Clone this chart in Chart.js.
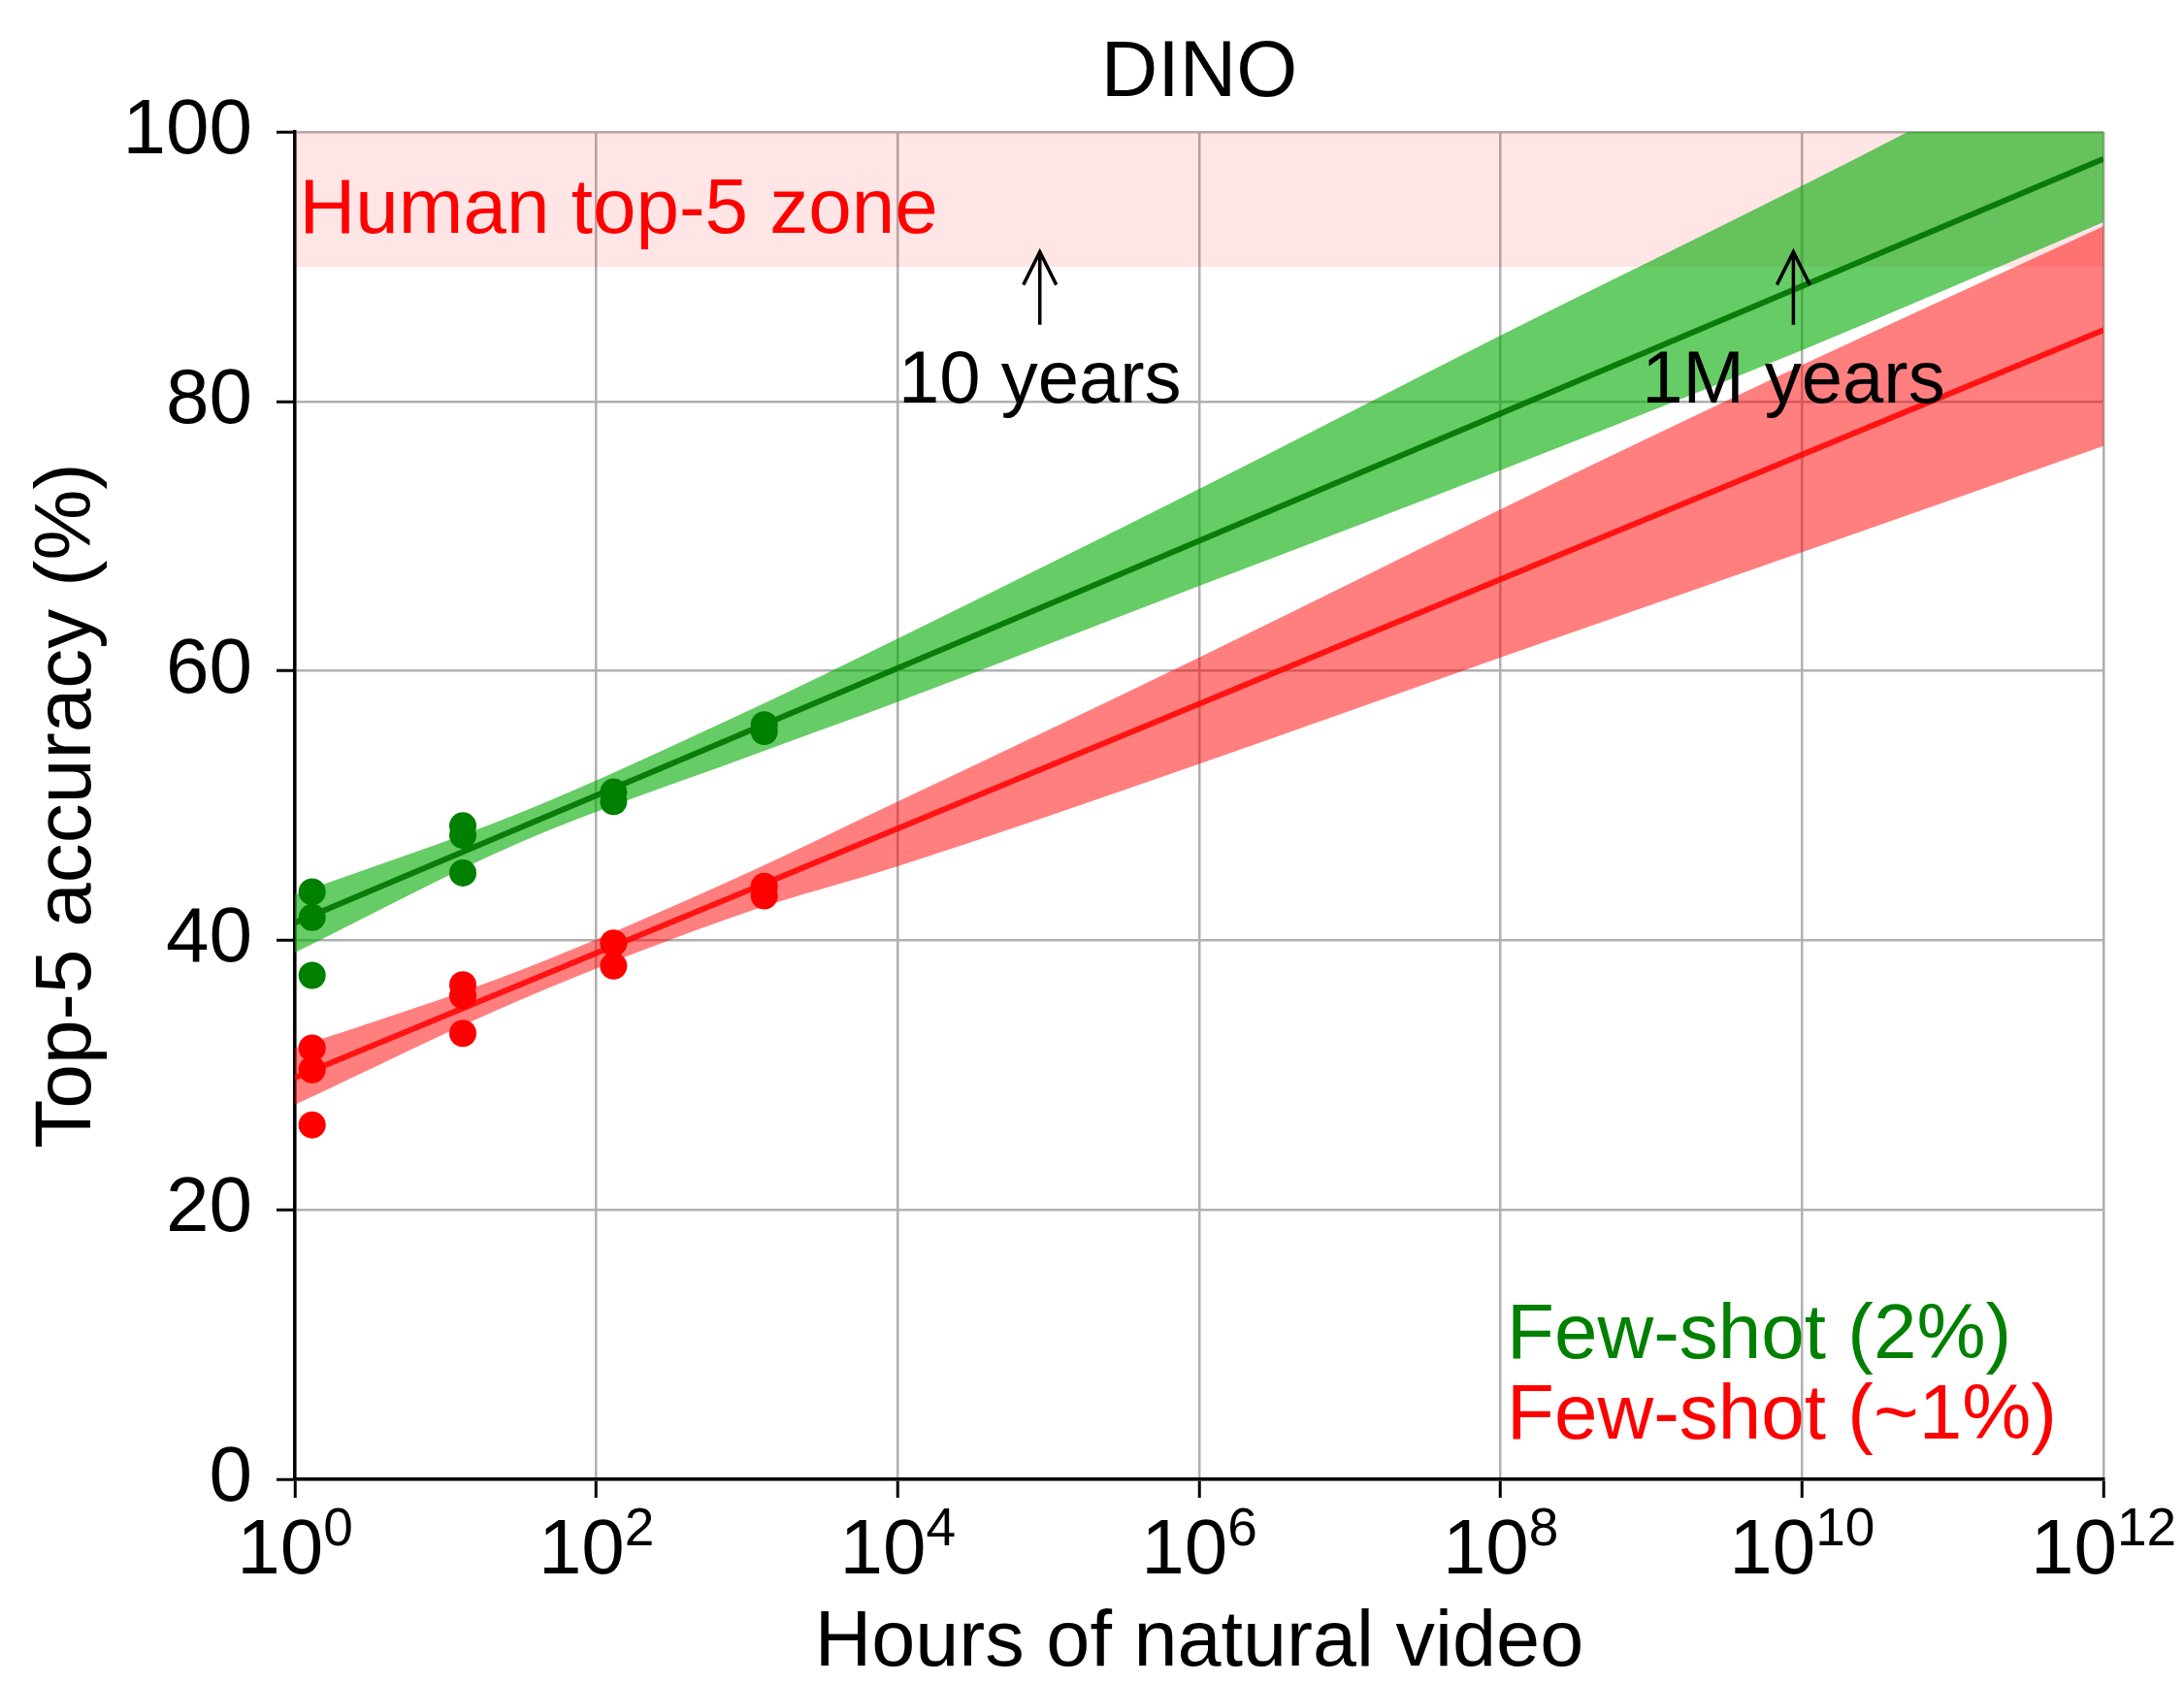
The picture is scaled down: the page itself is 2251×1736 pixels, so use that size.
<!DOCTYPE html>
<html>
<head>
<meta charset="utf-8">
<script src="https://cdn.jsdelivr.net/npm/chart.js@4"></script>
<style>
  html, body { margin: 0; padding: 0; background: #fff; }
</style>
</head>
<body>
<canvas id="scalingChart" width="2251" height="1736"></canvas>
<script>
// measured runs: hours of natural video vs top-5 accuracy (%)
const fewShot2Hours = [1.3, 1.3, 1.3, 13, 13, 13, 130, 130, 1300, 1300]
const fewShot2Acc = [43.6, 41.7, 37.4, 48.5, 47.8, 45.0, 51.0, 50.3, 56.0, 55.5]
const fewShot1Hours = [1.3, 1.3, 1.3, 13, 13, 13, 130, 130, 1300, 1300]
const fewShot1Acc = [32.0, 30.4, 26.3, 36.7, 35.9, 33.1, 39.8, 38.1, 44.0, 43.3]

// log-linear fits, read at both ends of the x axis
const fitHours = [1, 1e12]
const fit2Acc = [41.3, 98.0]
const fit1Acc = [29.8, 85.3]

// confidence bands around the fits
const bandHours = [1, 31.6, 1e3, 1e4, 1e6, 1e8, 1e10, 1e12]
const band2Upper = [43.4, 49.5, 57.0, 62.4, 73.5, 84.9, 96.0, 107.5]
const band2Lower = [39.1, 47.3, 53.6, 57.7, 66.3, 74.9, 83.8, 93.3]
const band1Upper = [32.0, 37.8, 45.0, 50.3, 61.0, 72.0, 82.7, 93.0]
const band1Lower = [27.8, 35.6, 42.1, 45.5, 53.1, 61.0, 68.8, 76.7]

// human top-5 zone (min, max)
const humanZone = [90, 100]

// annotations: hours for 10 years and 1M years of video
const markerHours = [87600, 8.76e9]
const markerLabels = ['10 years', '1M years']

const xTickExponents = [0, 2, 4, 6, 8, 10, 12]
const yTickStep = 20

const FONT = '"Liberation Sans", Arial, Helvetica, sans-serif'
Chart.defaults.font.family = FONT
Chart.defaults.color = '#000'

const points = (xs, ys) => xs.map((x, i) => ({ x, y: ys[i] }))
const flat = (xs, v) => xs.map(x => ({ x, y: v }))

const overlay = {
  id: 'overlay',
  afterDraw(chart) {
    const { ctx, scales: { x, y } } = chart
    ctx.save()
    ctx.fillStyle = '#000'
    ctx.textBaseline = 'alphabetic'
    ctx.textAlign = 'left'

    // x tick labels: 10 with a raised exponent
    xTickExponents.forEach(e => {
      const px = x.getPixelForValue(10 ** e)
      ctx.font = '80px ' + FONT
      const base = ctx.measureText('10').width
      ctx.font = '55px ' + FONT
      const sup = ctx.measureText(String(e)).width
      const left = px - (base + sup) / 2
      ctx.font = '80px ' + FONT
      ctx.fillText('10', left, y.bottom + 97)
      ctx.font = '55px ' + FONT
      ctx.fillText(String(e), left + base, y.bottom + 68)
    })

    // zone label
    ctx.font = '80px ' + FONT
    ctx.fillStyle = '#ff0000'
    ctx.fillText('Human top-5 zone', x.getPixelForValue(1.07), y.getPixelForValue(92.5))

    // arrows with labels
    ctx.fillStyle = '#000'
    ctx.strokeStyle = '#000'
    ctx.lineWidth = 3.5
    ctx.textAlign = 'center'
    ctx.font = '76px ' + FONT
    markerHours.forEach((h, i) => {
      const px = x.getPixelForValue(h)
      const tip = y.getPixelForValue(91.1)
      const tail = y.getPixelForValue(85.7)
      ctx.beginPath()
      ctx.moveTo(px, tail)
      ctx.lineTo(px, tip)
      ctx.moveTo(px - 17, tip + 34)
      ctx.lineTo(px, tip)
      ctx.lineTo(px + 17, tip + 34)
      ctx.stroke()
      ctx.fillText(markerLabels[i], px, y.getPixelForValue(79.9))
    })

    // series labels
    ctx.font = '80px ' + FONT
    ctx.textAlign = 'left'
    ctx.fillStyle = '#008000'
    ctx.fillText('Few-shot (2%)', x.getPixelForValue(1.1e8), y.getPixelForValue(9.0))
    ctx.fillStyle = '#ff0000'
    ctx.fillText('Few-shot (~1%)', x.getPixelForValue(1.1e8), y.getPixelForValue(3.0))
    ctx.restore()
  }
}

const lineStyle = { type: 'line', showLine: true, pointRadius: 0, pointHoverRadius: 0, tension: 0 }
const bandStyle = { ...lineStyle, cubicInterpolationMode: 'monotone', borderColor: 'transparent', borderWidth: 1 }

const chart = new Chart(document.getElementById('scalingChart'), {
  type: 'scatter',
  data: {
    datasets: [
      { label: 'Few-shot (2%)', data: points(fewShot2Hours, fewShot2Acc), backgroundColor: '#008000', pointRadius: 14, pointHoverRadius: 14, borderWidth: 0, order: 0 },
      { label: 'Few-shot (~1%)', data: points(fewShot1Hours, fewShot1Acc), backgroundColor: '#ff0000', pointRadius: 14, pointHoverRadius: 14, borderWidth: 0, order: 0 },
      { ...lineStyle, data: points(fitHours, fit2Acc), borderColor: 'rgba(0,115,0,0.9)', borderWidth: 6, fill: false, order: 1 },
      { ...lineStyle, data: points(fitHours, fit1Acc), borderColor: 'rgba(255,0,0,0.85)', borderWidth: 6, fill: false, order: 1 },
      { ...bandStyle, data: points(bandHours, band2Upper), backgroundColor: 'rgba(0,170,0,0.6)', fill: 5, order: 2 },
      { ...bandStyle, data: points(bandHours, band2Lower), fill: false, order: 2 },
      { ...bandStyle, data: points(bandHours, band1Upper), backgroundColor: 'rgba(255,0,0,0.5)', fill: 7, order: 2 },
      { ...bandStyle, data: points(bandHours, band1Lower), fill: false, order: 2 },
      { ...lineStyle, data: flat(fitHours, humanZone[1]), borderColor: 'transparent', borderWidth: 1, backgroundColor: 'rgba(255,0,0,0.1)', fill: 9, order: 3 },
      { ...lineStyle, data: flat(fitHours, humanZone[0]), borderColor: 'transparent', borderWidth: 1, fill: false, order: 3 },
    ]
  },
  options: {
    responsive: false,
    animation: false,
    devicePixelRatio: 1,
    layout: { padding: { left: 0, right: 83, top: 0, bottom: 0 } },
    plugins: {
      legend: { display: false },
      tooltip: { enabled: false },
      title: {
        display: true,
        text: 'DINO',
        fullSize: false,
        color: '#000',
        font: { size: 81, weight: 'normal', lineHeight: 1 },
        padding: { top: 36, bottom: 19 }
      }
    },
    scales: {
      x: {
        type: 'logarithmic',
        min: 1,
        max: 1e12,
        afterBuildTicks: scale => {
          scale.ticks = xTickExponents.map(e => ({ value: 10 ** e }))
        },
        afterFit: scale => { scale.height = 211 },
        ticks: { display: false },
        grid: { color: '#b0b0b0', lineWidth: 2.5, tickColor: '#000', tickWidth: 3, tickLength: 19 },
        border: { display: true, color: '#000', width: 3.5 },
        title: {
          display: true,
          text: 'Hours of natural video',
          color: '#000',
          font: { size: 81, lineHeight: 1 },
          padding: { top: 0, bottom: 1 }
        }
      },
      y: {
        min: 0,
        max: 100,
        afterFit: scale => { scale.width = 304 },
        ticks: { stepSize: yTickStep, padding: 25, font: { size: 80 }, color: '#000' },
        grid: { color: '#b0b0b0', lineWidth: 2.5, tickColor: '#000', tickWidth: 3, tickLength: 19 },
        border: { display: true, color: '#000', width: 3.5 },
        title: {
          display: true,
          text: 'Top-5 accuracy (%)',
          color: '#000',
          font: { size: 82, lineHeight: 1 },
          padding: { top: 29, bottom: 0 }
        }
      }
    }
  },
  plugins: [overlay]
})
</script>
</body>
</html>
